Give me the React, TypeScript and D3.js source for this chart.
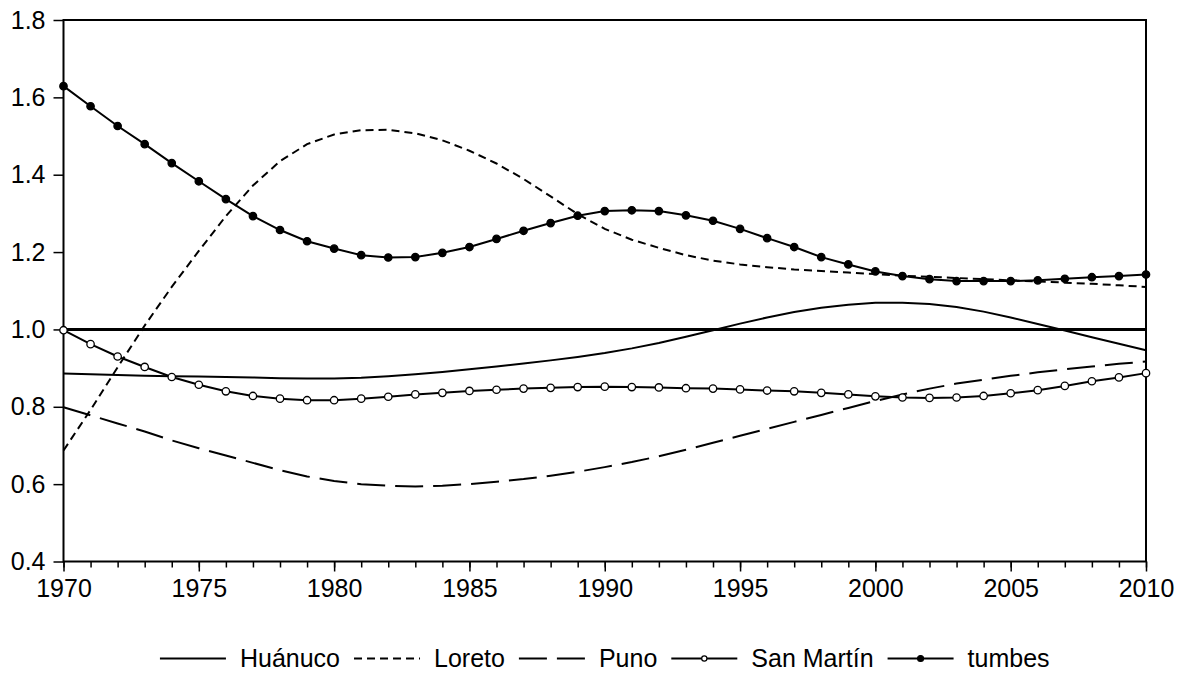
import * as d3 from 'd3';
import React, { useEffect, useRef } from 'react';

const years = [
    1970, 1971, 1972, 1973, 1974, 1975, 1976, 1977, 1978, 1979,
    1980, 1981, 1982, 1983, 1984, 1985, 1986, 1987, 1988, 1989,
    1990, 1991, 1992, 1993, 1994, 1995, 1996, 1997, 1998, 1999,
    2000, 2001, 2002, 2003, 2004, 2005, 2006, 2007, 2008, 2009, 2010
];

const huanuco = [
    0.886, 0.884, 0.882, 0.880, 0.879, 0.878, 0.877, 0.876, 0.874, 0.873,
    0.873, 0.875, 0.879, 0.884, 0.890, 0.897, 0.904, 0.912, 0.920, 0.929,
    0.939, 0.951, 0.965, 0.981, 0.998, 1.015, 1.031, 1.045, 1.056, 1.064,
    1.069, 1.069, 1.066, 1.058, 1.046, 1.031, 1.014, 0.997, 0.980, 0.963, 0.946
];

const loreto = [
    0.687, 0.792, 0.902, 1.010, 1.110, 1.203, 1.293, 1.372, 1.435, 1.479,
    1.504, 1.515, 1.516, 1.507, 1.489, 1.462, 1.429, 1.389, 1.344, 1.298,
    1.260, 1.232, 1.211, 1.192, 1.178, 1.168, 1.161, 1.155, 1.151, 1.147,
    1.143, 1.139, 1.136, 1.133, 1.130, 1.127, 1.124, 1.121, 1.118, 1.114, 1.110
];

const puno = [
    0.799, 0.778, 0.757, 0.736, 0.713, 0.693, 0.674, 0.655, 0.636, 0.620,
    0.608, 0.600, 0.596, 0.594, 0.596, 0.600, 0.606, 0.613, 0.622, 0.632,
    0.644, 0.657, 0.672, 0.689, 0.707, 0.725, 0.743, 0.761, 0.779, 0.797,
    0.815, 0.832, 0.847, 0.860, 0.870, 0.880, 0.889, 0.897, 0.904, 0.911, 0.917
];

const sanMartin = [
    0.998, 0.962, 0.930, 0.903, 0.877, 0.857, 0.840, 0.828, 0.821, 0.817,
    0.817, 0.821, 0.826, 0.832, 0.836, 0.841, 0.844, 0.847, 0.849, 0.851,
    0.852, 0.851, 0.850, 0.848, 0.847, 0.845, 0.842, 0.840, 0.836, 0.832,
    0.827, 0.824, 0.823, 0.824, 0.828, 0.835, 0.843, 0.854, 0.866, 0.876, 0.887
];

const tumbes = [
    1.629, 1.577, 1.526, 1.479, 1.430, 1.383, 1.337, 1.293, 1.257, 1.228,
    1.209, 1.192, 1.186, 1.187, 1.198, 1.213, 1.234, 1.255, 1.275, 1.294,
    1.306, 1.308, 1.306, 1.295, 1.281, 1.260, 1.236, 1.213, 1.187, 1.168,
    1.150, 1.138, 1.130, 1.125, 1.125, 1.125, 1.127, 1.131, 1.135, 1.138, 1.142
];

const yTicks = [0.4, 0.6, 0.8, 1.0, 1.2, 1.4, 1.6, 1.8];
const xTicks = [1970, 1975, 1980, 1985, 1990, 1995, 2000, 2005, 2010];
const referenceLevel = 1.0;

const seriesNames = ['Huánuco', 'Loreto', 'Puno', 'San Martín', 'tumbes'];
const seriesValues = [huanuco, loreto, puno, sanMartin, tumbes];
const seriesDash = ['none', '8,5', '28,10', 'none', 'none'];
const seriesMarker = ['none', 'none', 'none', 'open', 'filled'];

const FONT = '"Liberation Sans", Arial, sans-serif';

const App = () => {
    const chartArea = useRef<SVGSVGElement>(null);
    const W = 1185, H = 675;
    const margin = { top: 20, right: 39, bottom: 113.5, left: 63.5 },
        width = W - margin.left - margin.right,
        height = H - margin.top - margin.bottom;

    useEffect(() => {
        const root = d3.select(chartArea.current);
        root.selectAll('*').remove();

        const svg = root.append('g')
            .attr('transform', 'translate(' + margin.left + ',' + margin.top + ')');

        const x = d3.scaleLinear().domain([1970, 2010]).range([0, width]);
        const y = d3.scaleLinear().domain([0.4, 1.8]).range([height, 0]);

        // y axis
        const yAxis = svg.append('g')
            .call(d3.axisLeft(y).tickValues(yTicks).tickFormat(d3.format('.1f')).tickSize(10).tickPadding(8));
        yAxis.select('.domain').remove();
        yAxis.selectAll('line').attr('stroke', '#000').attr('stroke-width', 1.5);
        yAxis.selectAll('text').style('font-family', FONT).style('font-size', '25px').attr('fill', '#000');

        // x axis: yearly minor ticks, then labelled ones every 5 years
        const xMinor = svg.append('g')
            .attr('transform', 'translate(0,' + height + ')')
            .call(d3.axisBottom(x).tickValues(years).tickSize(6).tickFormat(() => ''));
        xMinor.select('.domain').remove();
        xMinor.selectAll('line').attr('stroke', '#000').attr('stroke-width', 1.5);

        const xAxis = svg.append('g')
            .attr('transform', 'translate(0,' + height + ')')
            .call(d3.axisBottom(x).tickValues(xTicks).tickFormat(d3.format('d')).tickSize(10).tickPadding(8));
        xAxis.select('.domain').remove();
        xAxis.selectAll('line').attr('stroke', '#000').attr('stroke-width', 1.5);
        xAxis.selectAll('text').style('font-family', FONT).style('font-size', '25px').attr('fill', '#000');

        // frame
        svg.append('rect')
            .attr('x', 0).attr('y', 0).attr('width', width).attr('height', height)
            .attr('fill', 'none').attr('stroke', '#000').attr('stroke-width', 2);

        // reference line at 1.0
        svg.append('line')
            .attr('x1', 0).attr('x2', width)
            .attr('y1', y(referenceLevel)).attr('y2', y(referenceLevel))
            .attr('stroke', '#000').attr('stroke-width', 3);

        const line = d3.line<number>()
            .x((d, i) => x(years[i]))
            .y(d => y(d));

        seriesValues.forEach((vals, k) => {
            svg.append('path')
                .datum(vals)
                .attr('d', line)
                .attr('fill', 'none')
                .attr('stroke', '#000')
                .attr('stroke-width', 2)
                .attr('stroke-dasharray', seriesDash[k]);

            if (seriesMarker[k] !== 'none') {
                svg.selectAll(null)
                    .data(vals)
                    .enter()
                    .append('circle')
                    .attr('cx', (d, i) => x(years[i]))
                    .attr('cy', d => y(d))
                    .attr('r', 3.7)
                    .attr('fill', seriesMarker[k] === 'open' ? '#fff' : '#000')
                    .attr('stroke', '#000')
                    .attr('stroke-width', 1.3);
            }
        });

        // legend
        const legend = root.append('g');
        const lineLen = 66, gapIn = 14, gapOut = 14, legendY = 658.5;
        let cursor = 0;
        seriesNames.forEach((name, k) => {
            const g = legend.append('g').attr('transform', 'translate(' + cursor + ',0)');
            g.append('line')
                .attr('x1', 0).attr('x2', lineLen)
                .attr('y1', legendY).attr('y2', legendY)
                .attr('stroke', '#000').attr('stroke-width', 2)
                .attr('stroke-dasharray', seriesDash[k]);
            if (seriesMarker[k] !== 'none') {
                g.append('circle')
                    .attr('cx', lineLen / 2).attr('cy', legendY)
                    .attr('r', seriesMarker[k] === 'open' ? 2.6 : 3)
                    .attr('fill', seriesMarker[k] === 'open' ? '#fff' : '#000')
                    .attr('stroke', '#000').attr('stroke-width', 1.2);
            }
            const t = g.append('text')
                .attr('x', lineLen + gapIn)
                .attr('y', legendY + 8.5)
                .style('font-family', FONT)
                .style('font-size', '25px')
                .attr('fill', '#000')
                .text(name);
            const tw = (t.node() as SVGTextElement).getComputedTextLength();
            cursor += lineLen + gapIn + tw + gapOut;
        });
        const total = cursor - gapOut;
        const center = margin.left + width / 2;
        legend.attr('transform', 'translate(' + (center - total / 2) + ',0)');
    }, []);

    return <svg
        ref={chartArea}
        width={W}
        height={H}
        style={{ position: 'absolute', left: 0, top: 0, background: '#fff' }}
    />;
}
export default App;
